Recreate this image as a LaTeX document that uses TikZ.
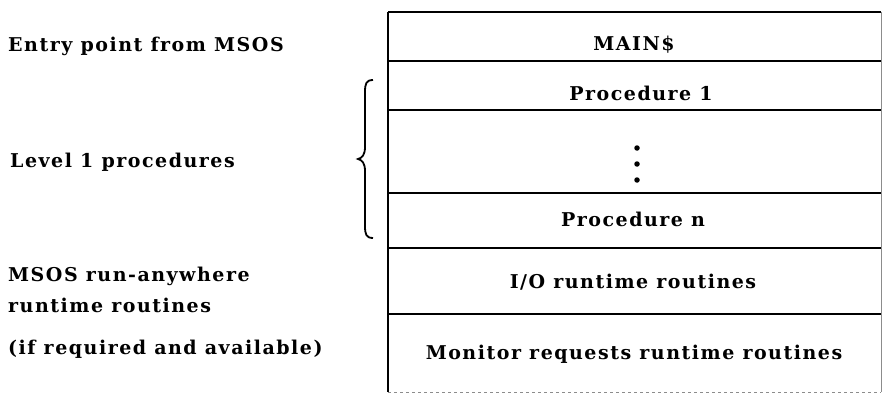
\documentclass[tikz,border=0pt]{standalone}
\usepackage{fontspec}
\setmainfont{DejaVu Serif}[LetterSpace=8,BoldFont={DejaVu Serif Bold}]
\begin{document}
\begin{tikzpicture}[x=1pt,y=-1pt,
  lbl/.style={anchor=base west,inner sep=0pt,font=\fontsize{19}{22}\selectfont\bfseries},
  cell/.style={anchor=base,inner sep=0pt,font=\fontsize{19}{22}\selectfont\bfseries},
  rule/.style={line width=2.8pt,black},
  faint/.style={line width=0.8pt,black!45},
  dot/.style={circle,fill=black,inner sep=0pt,minimum size=5.5pt}]
\useasboundingbox (0,0) rectangle (882,393);
% frame corners
\coordinate (tl) at (388,12);
\coordinate (tr) at (881,12);
\coordinate (bl) at (388,392);
\coordinate (br) at (881,392);
% separators
\coordinate (l1) at (388,61);  \coordinate (r1) at (881,61);
\coordinate (l2) at (388,110); \coordinate (r2) at (881,110);
\coordinate (l3) at (388,193); \coordinate (r3) at (881,193);
\coordinate (l4) at (388,248); \coordinate (r4) at (881,248);
\coordinate (l5) at (388,314); \coordinate (r5) at (881,314);
\draw[faint] (tr) -- (br);
\draw[faint,dashed] (bl) -- (br);
\draw[rule] (tl) -- (tr);
\draw[rule] (l1) -- (r1);
\draw[rule] (l2) -- (r2);
\draw[rule] (l3) -- (r3);
\draw[rule] (l4) -- (r4);
\draw[rule] (l5) -- (r5);
\draw[line width=2.6pt] (tl) -- (bl);
% cell texts
\node[cell] (main) at (634,51) {MAIN\$};
\node[cell] (p1) at (641,101) {Procedure 1};
\node[dot] (d1) at (637,148) {};
\node[dot] (d2) at (637,164) {};
\node[dot] (d3) at (637,180) {};
\node[cell] (pn) at (633,226) {Procedure n};
\node[cell] (io) at (633,288) {I/O runtime routines};
\node[cell] (mon) at (634,359) {Monitor requests runtime routines};
% left labels
\node[lbl] (entry) at (8,52) {Entry point from MSOS};
\node[lbl] (lvl) at (10,167) {Level 1 procedures};
\node[lbl] (msos) at (8,281) {MSOS run-anywhere};
\node[lbl] (rt) at (8,312) {runtime routines};
\node[lbl] (ifreq) at (8,354) {(if required and available)};
% brace
\coordinate (bt) at (373,80);
\coordinate (bm) at (358,159);
\coordinate (bb) at (373,238);
\draw[line width=1.8pt]
  (bt) .. controls (366,80) and (365,84) .. (365,92)
  -- (365,147) .. controls (365,155) and (362,158) .. (bm)
  .. controls (362,160) and (365,163) .. (365,171)
  -- (365,226) .. controls (365,234) and (366,238) .. (bb);
\end{tikzpicture}
\end{document}
